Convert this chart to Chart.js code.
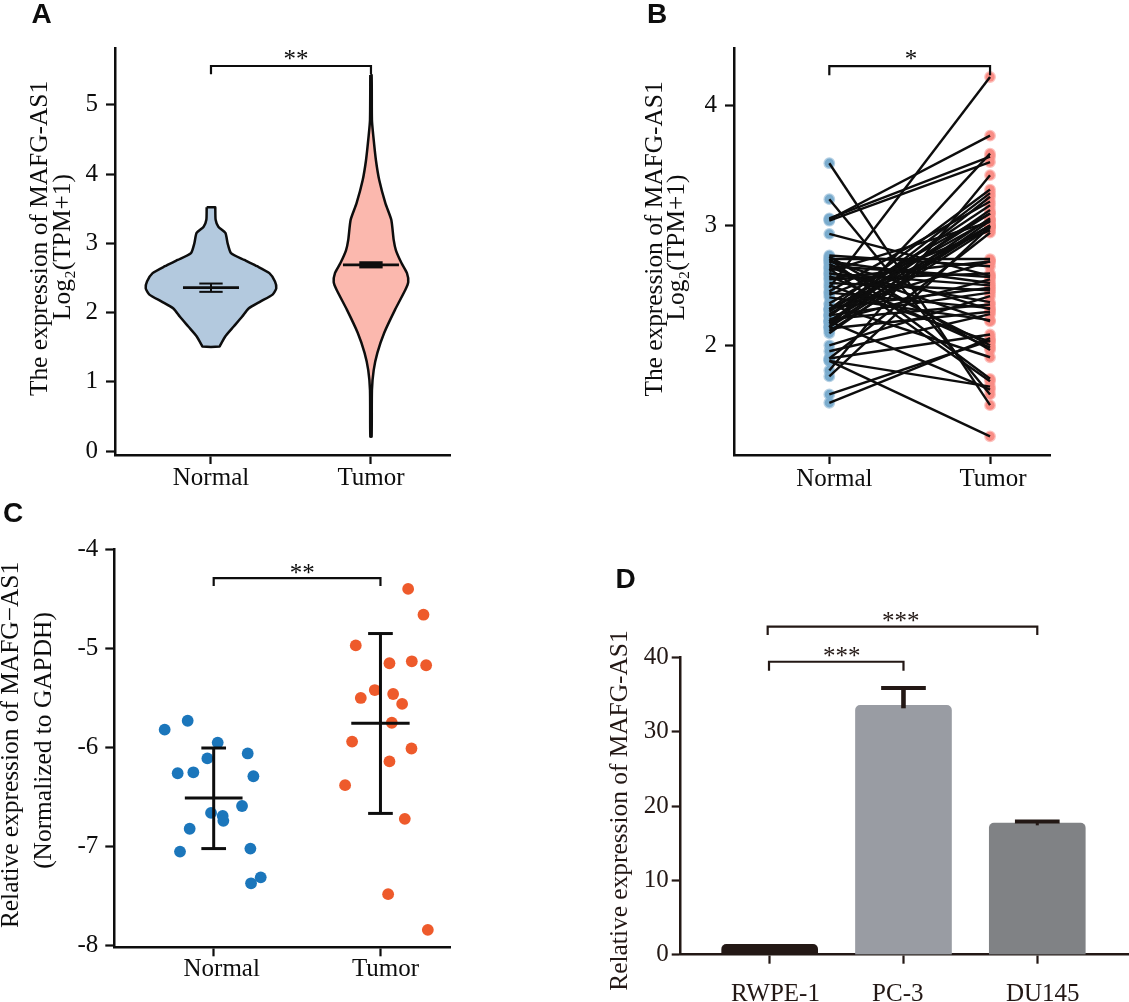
<!DOCTYPE html>
<html>
<head>
<meta charset="utf-8">
<title>MAFG-AS1 expression</title>
<script src="https://cdn.jsdelivr.net/npm/chart.js@4"></script>
<style>
html,body{margin:0;padding:0;background:#fff;width:1129px;height:1002px;overflow:hidden}
canvas{position:absolute;display:block}
</style>
</head>
<body>
<canvas id="a"></canvas><canvas id="b"></canvas><canvas id="c"></canvas><canvas id="d"></canvas>
<script>
// ---------- data ----------
const groupLabels = ['Normal', 'Tumor'];
const yTicksA = [0, 1, 2, 3, 4, 5];
const yTicksB = [2, 3, 4];
const yTicksC = [-8, -7, -6, -5, -4];
const yTicksD = [0, 10, 20, 30, 40];

// Panel A: violin outlines (expression value and half width in axis units)
const normalViolinValues = [3.52, 3.50, 3.34, 3.24, 3.15, 3.0, 2.86, 2.76, 2.67, 2.57, 2.45, 2.35, 2.26, 2.16, 2.06, 1.94, 1.80, 1.66, 1.53, 1.51];
const normalViolinWidths = [.027, .027, .029, .046, .09, .104, .125, .208, .288, .365, .40, .408, .385, .308, .235, .194, .142, .09, .058, .054];
const tumorViolinValues = [5.43, 4.78, 4.54, 4.2, 3.91, 3.58, 3.34, 3.05, 2.9, 2.72, 2.57, 2.44, 2.33, 2.04, 1.71, 1.42, 1.17, .88, .21];
const tumorViolinWidths = [.004, .006, .015, .031, .052, .09, .127, .142, .156, .19, .225, .233, .215, .15, .083, .04, .017, .006, .004];
const violinMedians = [2.36, 2.69];
const violinLower = [2.30, 2.66];
const violinUpper = [2.42, 2.72];

// Panel B: paired samples
const pairNormal = [2.48, 3.05, 2.15, 3.06, 3.04, 1.79, 2.30, 2.24, 2.18, 2.45, 2.28, 2.20, 2.35, 2.16, 2.62, 2.26, 2.12, 2.42, 1.89,
  2.72, 2.56, 2.75, 2.93, 2.66, 2.70, 2.31, 2.52, 2.25, 2.00, 2.60, 2.22, 2.44, 2.14, 1.95, 2.40,
  1.89, 1.52, 1.59, 2.50, 2.68, 2.58, 2.74, 2.34, 2.72, 2.64, 1.87, 2.20, 3.22, 3.52, 1.87, 1.74, 2.10,
  2.20, 2.25, 2.30, 2.15, 2.70, 2.65, 2.60, 2.55, 2.20, 2.30];
const pairTumor = [4.24, 3.75, 3.60, 3.575, 3.53, 3.42, 3.30, 3.27, 3.24, 3.20, 3.17, 3.13, 3.10, 3.06, 3.03, 3.00, 2.98, 2.96, 2.94,
  2.72, 2.70, 2.66, 2.58, 2.57, 2.52, 2.48, 2.46, 2.44, 2.41, 2.36, 2.34, 2.31, 2.28, 2.26, 2.21,
  2.09, 2.06, 2.04, 2.03, 2.00, 1.98, 1.96, 1.90, 1.72, 1.70, 1.655, 1.63, 1.59, 1.50, 1.24, 2.99, 3.04,
  3.00, 3.10, 3.05, 3.00, 2.30, 2.20, 2.50, 2.60, 2.55, 2.70];

// Panel C: individual samples with horizontal jitter, mean and SD limits
const normalJitter = [-.294, -.156, .024, -.038, .204, -.216, -.122, .238, .17, -.016, .054, .058, -.144, .22, -.202, .282, .224];
const normalSamples = [-5.82, -5.73, -5.95, -6.11, -6.06, -6.26, -6.25, -6.29, -6.59, -6.66, -6.69, -6.74, -6.82, -7.02, -7.05, -7.31, -7.37];
const tumorJitter = [1.166, 1.258, .852, 1.054, 1.188, 1.274, .966, .882, 1.076, 1.13, 1.068, .83, 1.186, 1.054, .788, 1.146, 1.046, 1.284];
const tumorSamples = [-4.40, -4.66, -4.97, -5.15, -5.13, -5.17, -5.42, -5.50, -5.46, -5.56, -5.75, -5.94, -6.01, -6.14, -6.38, -6.72, -7.48, -7.84];
const sampleMeans = [-6.51, -5.756];
const sampleLower = [-7.02, -6.665];
const sampleUpper = [-6.005, -4.85];

// Panel D: cell lines
const cellLines = ['RWPE-1', 'PC-3', 'DU145'];
const cellMeans = [1.39, 33.54, 17.7];
const cellUpper = [1.39, 35.87, 17.9];
const cellStemFoot = [1.39, 33.14, 17.4];

// ---------- styles ----------
const INK = '#0d0d0d', BROWN = '#231815', SERIF = '"Liberation Serif", serif';
Chart.defaults.font.family = SERIF;
Chart.defaults.animation = false;

// a two-point line drawn on the chart's own scales
function seg(x1, y1, x2, y2, width, color) {
  return {type: 'scatter', showLine: true, data: [{x: x1, y: y1}, {x: x2, y: y2}], borderColor: color || INK,
    borderWidth: width, pointRadius: 0, clip: false, borderCapStyle: 'butt'};
}
function bracket(x1, x2, yBar, yFoot, color) {
  return {type: 'scatter', showLine: true, data: [{x: x1, y: yFoot}, {x: x1, y: yBar}, {x: x2, y: yBar}, {x: x2, y: yFoot}],
    borderColor: color || INK, borderWidth: 2.2, pointRadius: 0, clip: false, borderJoinStyle: 'miter'};
}
function violin(center, values, widths, fill) {
  const left = values.map((v, i) => ({x: center - widths[i], y: v}));
  const right = values.map((v, i) => ({x: center + widths[i], y: v})).reverse();
  const outline = left.concat(right, [left[0]]);
  return {type: 'scatter', showLine: true, data: outline, borderColor: INK, borderWidth: 2.5, pointRadius: 0,
    tension: 0.2, closedFill: fill, clip: false};
}
function summary(center, mid, low, high, midHalf, capHalf, midW, capW) {
  return [seg(center - midHalf, mid, center + midHalf, mid, midW),
    seg(center, low, center, high, capW),
    seg(center - capHalf, low, center + capHalf, low, capW),
    seg(center - capHalf, high, center + capHalf, high, capW)];
}

const panelPlugin = {
  id: 'panel',
  beforeDraw(chart, args, opts) {
    const items = chart.scales.x.getLabelItems();
    if (opts.shift && !items._shifted) {
      items.forEach((it, i) => {
        it.options.translation[0] += opts.shift[i] || 0;
        it.options.translation[1] += opts.shiftY || 0;
      });
      items._shifted = true;
    }
  },
  beforeDatasetDraw(chart, args) {
    const ds = chart.data.datasets[args.index];
    if (!ds.closedFill) return;
    const ctx = chart.ctx;
    const pts = chart.getDatasetMeta(args.index).data;
    ctx.save();
    ctx.beginPath();
    pts.forEach((p, i) => {
      if (i === 0) { ctx.moveTo(p.x, p.y); return; }
      const prev = pts[i - 1];
      ctx.bezierCurveTo(prev.cp2x, prev.cp2y, p.cp1x, p.cp1y, p.x, p.y);
    });
    ctx.closePath();
    ctx.fillStyle = ds.closedFill;
    ctx.fill();
    ctx.restore();
  },
  afterDraw(chart, args, opts) {
    const ctx = chart.ctx;
    (opts.texts || []).forEach(t => {
      ctx.save();
      ctx.translate(t.x - opts.box[0], t.y - opts.box[1]);
      if (t.rot) ctx.rotate(t.rot);
      ctx.font = t.font;
      ctx.fillStyle = t.color || INK;
      ctx.textAlign = 'center';
      ctx.textBaseline = 'middle';
      ctx.fillText(t.text, 0, 0);
      ctx.restore();
    });
  }
};

function axisOptions(min, max, ticks, cb, color, fit, pad) {
  return {
    type: 'linear', min, max, offset: false,
    afterBuildTicks: s => { s.ticks = ticks.map(value => ({value})); },
    afterFit: fit,
    border: {display: true, width: 2.5, color},
    grid: {drawOnChartArea: false, drawTicks: true, tickLength: 9, tickWidth: 2.2, color, offset: false},
    ticks: {callback: cb, color, font: {size: 25, family: SERIF}, autoSkip: false, maxRotation: 0, minRotation: 0, padding: pad}
  };
}

function panel(id, box, area, xr, yr, xTicks, xNames, yTicks, datasets, texts, shift, shiftY, yPad, color) {
  const [bx, by, bw, bh] = box;
  const el = document.getElementById(id);
  el.width = bw; el.height = bh;
  el.style.left = bx + 'px'; el.style.top = by + 'px';
  el.style.width = bw + 'px'; el.style.height = bh + 'px';
  const c = color || INK;
  new Chart(el, {
    type: datasets[0].type === 'bar' ? 'bar' : 'scatter',
    data: {datasets},
    plugins: [panelPlugin],
    options: {
      responsive: false, maintainAspectRatio: false, animation: false, devicePixelRatio: 1,
      layout: {autoPadding: false, padding: {left: 0, top: area.top - by, right: bx + bw - area.right, bottom: 0}},
      plugins: {legend: {display: false}, tooltip: {enabled: false}, panel: {box, texts, shift, shiftY}},
      scales: {
        x: axisOptions(xr[0], xr[1], xTicks, v => xNames[v], c, s => { s.height = by + bh - area.bottom; }, 3),
        y: axisOptions(yr[0], yr[1], yTicks, v => String(v), c, s => { s.width = area.left - bx; }, yPad)
      }
    }
  });
}

const UP = -Math.PI / 2;
const LETTER = 'bold 28px "Liberation Sans", sans-serif';
const TITLE = '25.4px ' + SERIF;
const STAR = '25px ' + SERIF;

// ---------- Panel A ----------
panel('a', [0, 0, 510, 500], {left: 115, right: 450, top: 48, bottom: 455}, [-0.6, 1.494], [-0.055, 5.82],
  [0, 1], groupLabels, yTicksA,
  [
    bracket(0, 1, 5.56, 5.44),
    ...summary(0, violinMedians[0], violinLower[0], violinUpper[0], .175, .073, 2.8, 2),
    ...summary(1, violinMedians[1], violinLower[1], violinUpper[1], .175, .073, 2.8, 3),
    violin(0, normalViolinValues, normalViolinWidths, '#b3c9de'),
    violin(1, tumorViolinValues, tumorViolinWidths, '#fbb8ae')
  ],
  [
    {text: 'A', x: 41.5, y: 15, font: LETTER},
    {text: 'The expression of MAFG-AS1', x: 40, y: 238.5, rot: UP, font: TITLE},
    {text: 'Log₂(TPM+1)', x: 63, y: 247, rot: UP, font: TITLE},
    {text: '**', x: 296, y: 60, font: STAR}
  ], [0, 0], -4, 8);

// ---------- Panel B ----------
const pairLines = pairNormal.map((n, i) => seg(0, n, 1, pairTumor[i], 2.4));
panel('b', [620, 0, 509, 500], {left: 734, right: 1050, top: 48, bottom: 455}, [-0.593, 1.373], [1.084, 4.482],
  [0, 1], groupLabels, yTicksB,
  [
    bracket(0, 1, 4.33, 4.255),
    ...pairLines,
    {type: 'scatter', data: pairNormal.map(v => ({x: 0, y: v})), backgroundColor: '#7aaccd', borderColor: 'rgba(122,172,205,.55)', borderWidth: 2.6, pointRadius: 4.6, clip: false},
    {type: 'scatter', data: pairTumor.map(v => ({x: 1, y: v})), backgroundColor: '#f98d85', borderColor: 'rgba(249,141,133,.55)', borderWidth: 2.6, pointRadius: 4.6, clip: false}
  ],
  [
    {text: 'B', x: 657, y: 15, font: LETTER},
    {text: 'The expression of MAFG-AS1', x: 655, y: 239, rot: UP, font: TITLE},
    {text: 'Log₂(TPM+1)', x: 677, y: 247.5, rot: UP, font: TITLE},
    {text: '*', x: 911, y: 60, font: STAR}
  ], [5, 3], -3, 8);

// ---------- Panel C ----------
panel('c', [0, 500, 510, 502], {left: 114.3, right: 450, top: 549.3, bottom: 947.3}, [-0.596, 1.417], [-8.016, -4],
  [0, 1], groupLabels, yTicksC,
  [
    bracket(0, 1, -4.29, -4.37),
    ...summary(0, sampleMeans[0], sampleLower[0], sampleUpper[0], .173, .074, 3, 3),
    ...summary(1, sampleMeans[1], sampleLower[1], sampleUpper[1], .175, .074, 3, 3),
    {type: 'scatter', data: normalSamples.map((v, i) => ({x: normalJitter[i], y: v})), backgroundColor: '#1b76bb', borderWidth: 0, pointRadius: 5.9, clip: false},
    {type: 'scatter', data: tumorSamples.map((v, i) => ({x: tumorJitter[i], y: v})), backgroundColor: '#ee5a2b', borderWidth: 0, pointRadius: 5.9, clip: false}
  ],
  [
    {text: 'C', x: 13, y: 514, font: LETTER},
    {text: 'Relative expression of MAFG−AS1', x: 11, y: 745, rot: UP, font: TITLE},
    {text: '(Normalized to GAPDH)', x: 44, y: 740.5, rot: UP, font: TITLE},
    {text: '**', x: 302.3, y: 574, font: STAR}
  ], [8, 5], -5, 7);

// ---------- Panel D ----------
const barData = cellMeans.map((v, i) => ({x: i, y: v}));
panel('d', [600, 560, 529, 442], {left: 680.7, right: 1128, top: 657.3, bottom: 954.7}, [-0.665, 2.678], [0, 40],
  [0, 1, 2], cellLines, yTicksD,
  [
    {type: 'bar', data: barData, backgroundColor: [BROWN, '#999ca3', '#808285'], barThickness: 96, borderRadius: {topLeft: 5, topRight: 5, bottomLeft: 0, bottomRight: 0}, borderSkipped: 'bottom', order: 5},
    bracket(-0.015, 2, 44.12, 43, BROWN),
    bracket(-0.005, 1, 39.4, 38.2, BROWN),
    seg(1, cellStemFoot[1], 1, cellUpper[1], 4.6, BROWN),
    seg(1 - .167, cellUpper[1], 1 + .167, cellUpper[1], 4, BROWN),
    seg(2, cellStemFoot[2], 2, cellUpper[2], 3, BROWN),
    seg(2 - .167, cellUpper[2], 2 + .167, cellUpper[2], 4, BROWN)
  ],
  [
    {text: 'D', x: 625.5, y: 580.5, font: LETTER},
    {text: 'Relative expression of MAFG-AS1', x: 620, y: 810.5, rot: UP, font: TITLE, color: BROWN},
    {text: '***', x: 900.7, y: 622, font: STAR, color: BROWN},
    {text: '***', x: 841.7, y: 657.5, font: STAR, color: BROWN}
  ], [5.8, -5.7, 5.4], 13, 3, BROWN);
</script>
</body>
</html>
